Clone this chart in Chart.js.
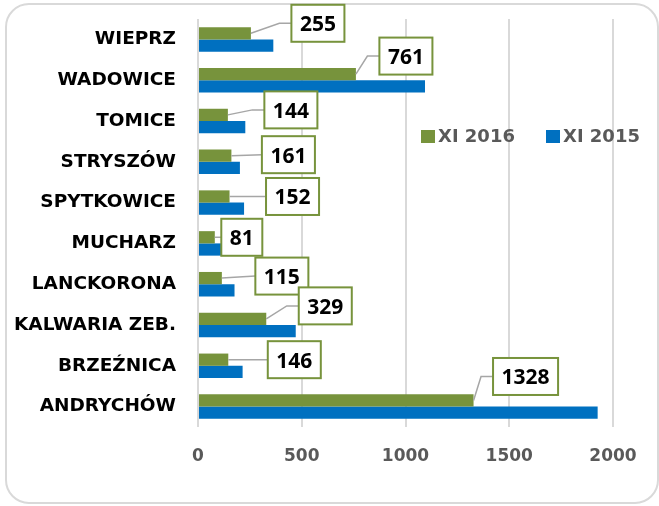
<!DOCTYPE html>
<html>
<head>
<meta charset="utf-8">
<script src="https://cdn.jsdelivr.net/npm/chart.js@4/dist/chart.umd.min.js"></script>
<style>
  html, body { margin: 0; padding: 0; background: #fff; }
  #wrap { position: relative; width: 659px; height: 506px; }
  #frame {
    position: absolute; left: 5px; top: 3px; width: 650px; height: 497px;
    border: 2px solid #d9d9d9; border-radius: 24px; pointer-events: none;
  }
  canvas { position: absolute; left: 0; top: 0; }
</style>
</head>
<body>
<div id="wrap">
  <div id="frame"></div>
  <canvas id="chart" width="659" height="506"></canvas>
</div>
<script>
// ── data ─────────────────────────────────────────────────────────────────────
const categories = ["WIEPRZ", "WADOWICE", "TOMICE", "STRYSZÓW", "SPYTKOWICE",
    "MUCHARZ", "LANCKORONA", "KALWARIA ZEB.", "BRZEŹNICA", "ANDRYCHÓW"];
const xi2016 = [255, 761, 144, 161, 152, 81, 115, 329, 146, 1328];
const xi2015 = [363, 1094, 228, 202, 222, 130, 176, 471, 215, 1926];
const xTicks = [0, 500, 1000, 1500, 2000];
const seriesNames = ["XI 2016", "XI 2015"];

// where each label box sits relative to the end of its green bar (px)
const labelOffsets = [[67, -10], [50, -18], [63, -5], [57, -1], [63, 0],
    [27, 0], [60, -2], [59, -13], [66, 0], [52, -24]];

const GREEN = "#77933c";
const BLUE = "#0070c0";
const AXIS_FONT = "'DejaVu Sans', sans-serif";

// ── boxed value labels with leader lines ─────────────────────────────────────
const boxLabels = {
    id: "boxLabels",
    afterDatasetsDraw(chart) {
        const ctx = chart.ctx;
        const meta = chart.getDatasetMeta(0);
        ctx.save();
        ctx.font = "bold 21px 'Open Sans', sans-serif";
        meta.data.forEach((bar, i) => {
            const [dx, dy] = labelOffsets[i];
            const txt = String(xi2016[i]);
            const w = ctx.measureText(txt).width + 17;
            const h = 37;
            const cx = bar.x + dx, cy = bar.y + dy;
            const left = cx - w / 2;

            ctx.strokeStyle = "#a6a6a6";
            ctx.lineWidth = 1.5;
            ctx.beginPath();
            ctx.moveTo(bar.x, bar.y);
            if (Math.abs(dy) > 3) ctx.lineTo(left - 12, cy);
            ctx.lineTo(left, cy);
            ctx.stroke();

            ctx.fillStyle = "#fff";
            ctx.fillRect(left, cy - h / 2, w, h);
            ctx.strokeStyle = GREEN;
            ctx.lineWidth = 2;
            ctx.strokeRect(left, cy - h / 2, w, h);

            // digits centred on the box: baseline sits half a cap height below centre
            ctx.fillStyle = "#000";
            ctx.textAlign = "center";
            ctx.textBaseline = "alphabetic";
            ctx.fillText(txt, cx, cy + 8);
        });
        ctx.restore();
    },
};

// ── legend inside the plot ───────────────────────────────────────────────────
const innerLegend = {
    id: "innerLegend",
    afterDraw(chart) {
        const ctx = chart.ctx;
        const items = [
            { x: 421, color: GREEN, text: seriesNames[0] },
            { x: 546, color: BLUE, text: seriesNames[1] },
        ];
        ctx.save();
        ctx.font = "bold 18px " + AXIS_FONT;
        ctx.textBaseline = "middle";
        ctx.textAlign = "left";
        items.forEach(it => {
            ctx.fillStyle = it.color;
            ctx.fillRect(it.x, 130, 14, 13);
            ctx.fillStyle = "#595959";
            ctx.fillText(it.text, it.x + 17, 137);
        });
        ctx.restore();
    },
};

// ── chart ────────────────────────────────────────────────────────────────────
new Chart(document.getElementById("chart").getContext("2d"), {
    type: "bar",
    data: {
        labels: categories,
        datasets: [
            { label: seriesNames[0], data: xi2016, backgroundColor: GREEN },
            { label: seriesNames[1], data: xi2015, backgroundColor: BLUE },
        ],
    },
    options: {
        responsive: false,
        animation: false,
        indexAxis: "y",
        categoryPercentage: 0.6,
        barPercentage: 1.0,
        layout: { padding: { left: 0, right: 46, top: 19, bottom: 0 } },
        scales: {
            x: {
                min: 0,
                max: 2000,
                afterBuildTicks: s => { s.ticks = xTicks.map(v => ({ value: v })); },
                afterFit: s => { s.height = 79; s.paddingLeft = 0; s.paddingRight = 0; },
                grid: { color: "#d9d9d9", lineWidth: 2, drawTicks: false },
                border: { display: false },
                ticks: {
                    padding: 19,
                    color: "#595959",
                    font: { family: AXIS_FONT, size: 17, weight: "bold" },
                    callback: v => String(v),
                },
            },
            y: {
                afterFit: s => { s.width = 198; s.paddingTop = 0; s.paddingBottom = 0; },
                grid: { display: false, drawTicks: false },
                border: { display: false },
                ticks: {
                    padding: 22,
                    color: "#000",
                    font: { family: AXIS_FONT, size: 18.5, weight: "bold" },
                },
            },
        },
        plugins: {
            legend: { display: false },
            tooltip: { enabled: false },
        },
    },
    plugins: [boxLabels, innerLegend],
});
</script>
</body>
</html>
